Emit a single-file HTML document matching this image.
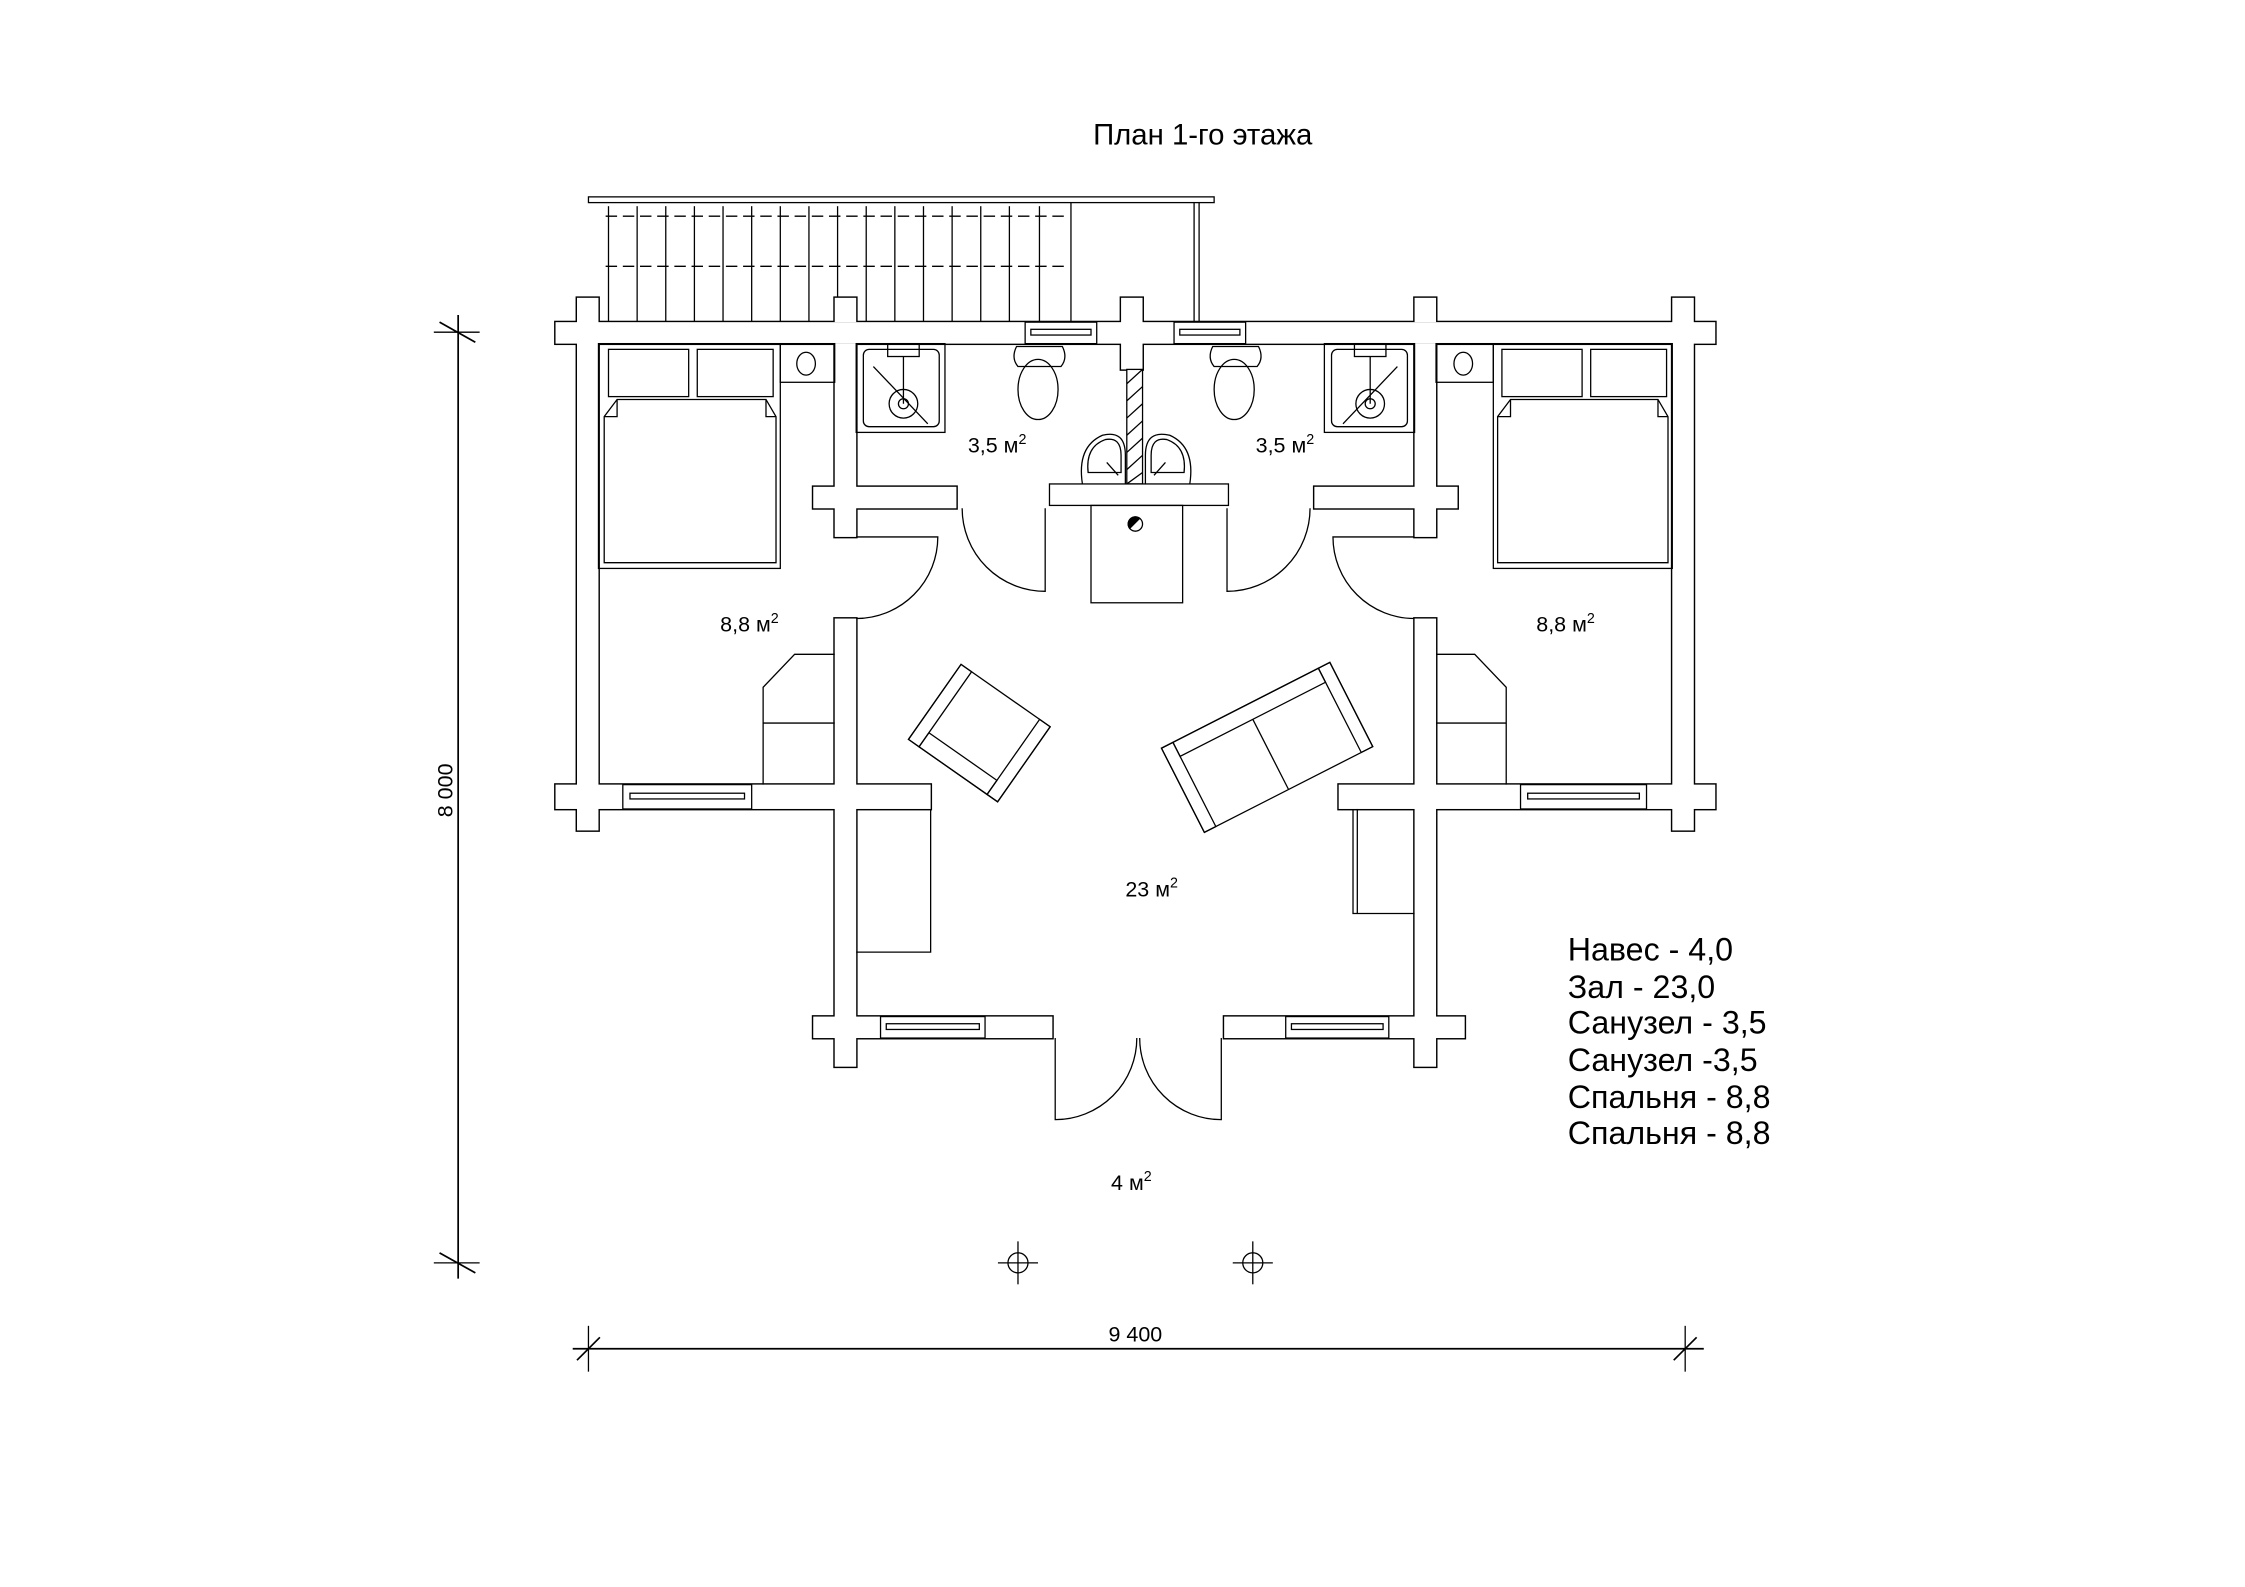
<!DOCTYPE html>
<html><head><meta charset="utf-8"><style>
html,body{margin:0;padding:0;background:#fff;}
svg{display:block;}
text{font-family:"Liberation Sans",sans-serif;fill:#000;}
</style></head><body>
<svg width="2245" height="1587" viewBox="0 0 1568 1108.4" preserveAspectRatio="none" xmlns="http://www.w3.org/2000/svg">
<rect width="1568" height="1109" fill="#fff"/>
<text x="840" y="101" font-size="20.5" text-anchor="middle">План 1-го этажа</text>

<g stroke="#000" fill="none" stroke-width="0.9">
<rect x="411" y="137.5" width="437" height="4"/>
<line x1="834" y1="141.5" x2="834" y2="225"/>
<line x1="837.5" y1="141.5" x2="837.5" y2="225"/>
<line x1="423" y1="151" x2="745" y2="151" stroke-dasharray="8,4"/>
<line x1="423" y1="186" x2="745" y2="186" stroke-dasharray="8,4"/>
<line x1="748" y1="141.5" x2="748" y2="225"/>
<line x1="425" y1="144" x2="425" y2="225"/>
<line x1="445" y1="144" x2="445" y2="225"/><line x1="465" y1="144" x2="465" y2="225"/>
<line x1="485" y1="144" x2="485" y2="225"/><line x1="505" y1="144" x2="505" y2="225"/>
<line x1="525" y1="144" x2="525" y2="225"/><line x1="545" y1="144" x2="545" y2="225"/>
<line x1="565" y1="144" x2="565" y2="225"/><line x1="585" y1="144" x2="585" y2="208"/>
<line x1="605" y1="144" x2="605" y2="225"/><line x1="625" y1="144" x2="625" y2="225"/>
<line x1="645" y1="144" x2="645" y2="225"/><line x1="665" y1="144" x2="665" y2="225"/>
<line x1="685" y1="144" x2="685" y2="225"/><line x1="705" y1="144" x2="705" y2="225"/>
<line x1="726" y1="144" x2="726" y2="225"/>
</g>

<g stroke="#000" stroke-width="2" fill="#fff">
<rect x="388" y="225" width="810" height="15"/>
<rect x="403" y="208" width="15" height="372"/>
<rect x="583" y="208" width="15" height="17"/>
<rect x="783" y="208" width="15" height="50"/>
<rect x="988" y="208" width="15" height="17"/>
<rect x="1168" y="208" width="15" height="372"/>
<rect x="583" y="240" width="15" height="135"/>
<rect x="568" y="340" width="100" height="15"/>
<rect x="988" y="240" width="15" height="135"/>
<rect x="918" y="340" width="100" height="15"/>
<rect x="583" y="432" width="15" height="313"/>
<rect x="988" y="432" width="15" height="313"/>
<rect x="388" y="548" width="262" height="17"/>
<rect x="935" y="548" width="263" height="17"/>
<rect x="568" y="710" width="167" height="15"/>
<rect x="855" y="710" width="168" height="15"/>
</g>
<g fill="#fff" stroke="none">
<rect x="388" y="225" width="810" height="15"/>
<rect x="403" y="208" width="15" height="372"/>
<rect x="583" y="208" width="15" height="17"/>
<rect x="783" y="208" width="15" height="50"/>
<rect x="988" y="208" width="15" height="17"/>
<rect x="1168" y="208" width="15" height="372"/>
<rect x="583" y="240" width="15" height="135"/>
<rect x="568" y="340" width="100" height="15"/>
<rect x="988" y="240" width="15" height="135"/>
<rect x="918" y="340" width="100" height="15"/>
<rect x="583" y="432" width="15" height="313"/>
<rect x="988" y="432" width="15" height="313"/>
<rect x="388" y="548" width="262" height="17"/>
<rect x="935" y="548" width="263" height="17"/>
<rect x="568" y="710" width="167" height="15"/>
<rect x="855" y="710" width="168" height="15"/>
</g>

<g stroke="#000" stroke-width="0.9" fill="#fff">
<rect x="716" y="225" width="50" height="15"/><rect x="720" y="230" width="42" height="4"/>
<rect x="820" y="225" width="50" height="15"/><rect x="824" y="230" width="42" height="4"/>
<rect x="435" y="548" width="90" height="17"/><rect x="440" y="554" width="80" height="4"/>
<rect x="1062" y="548" width="88" height="17"/><rect x="1067" y="554" width="78" height="4"/>
<rect x="615" y="710" width="73" height="15"/><rect x="619" y="715" width="65" height="4"/>
<rect x="898" y="710" width="72" height="15"/><rect x="902" y="715" width="64" height="4"/>
</g>

<g stroke="#000" stroke-width="0.9" fill="none">
<rect x="418" y="240" width="127" height="157"/>
<rect x="425" y="244" width="56" height="33"/>
<rect x="487" y="244" width="53" height="33"/>
<path d="M422,393 V291 L431,279 H535 L542,291 V393 Z" fill="#fff"/>
<path d="M422,291 H431 V279 M542,291 H535 V279"/>
<rect x="545" y="240" width="38" height="27"/>
<ellipse cx="563" cy="254" rx="6.5" ry="8"/>
<rect x="1043" y="240" width="125" height="157"/>
<rect x="1049" y="244" width="56" height="33"/>
<rect x="1111" y="244" width="53" height="33"/>
<path d="M1046,393 V291 L1055,279 H1158 L1165,291 V393 Z" fill="#fff"/>
<path d="M1046,291 H1055 V279 M1165,291 H1158 V279"/>
<rect x="1003" y="240" width="40" height="27"/>
<ellipse cx="1022" cy="254" rx="6.5" ry="8"/>

<path d="M583,457 H555 L533,480 V548"/><line x1="533" y1="505" x2="583" y2="505"/>
<path d="M1003,457 H1030 L1052,480 V548"/><line x1="1003" y1="505" x2="1052" y2="505"/>

<rect x="598" y="240" width="62" height="62"/>
<rect x="603" y="244" width="53" height="54" rx="4"/>
<rect x="620" y="240" width="22" height="9"/>
<line x1="631" y1="249" x2="631" y2="282"/>
<circle cx="631" cy="282" r="10"/><circle cx="631" cy="282" r="3.5"/>
<line x1="610" y1="256" x2="648" y2="296"/>
<rect x="925" y="240" width="63" height="62"/>
<rect x="930" y="244" width="53" height="54" rx="4"/>
<rect x="946" y="240" width="22" height="9"/>
<line x1="957" y1="249" x2="957" y2="282"/>
<circle cx="957" cy="282" r="10"/><circle cx="957" cy="282" r="3.5"/>
<line x1="976" y1="256" x2="938" y2="296"/>

<path d="M710,242 H742 Q746,250 741,256 H711 Q706,250 710,242 Z"/>
<ellipse cx="725" cy="272" rx="14" ry="21"/>
<path d="M847,242 H879 Q883,250 878,256 H848 Q843,250 847,242 Z"/>
<ellipse cx="862" cy="272" rx="14" ry="21"/>

<rect x="787" y="258" width="11" height="80" fill="#fff"/>
<path d="M787,268 L798,258 M787,280 L798,270 M787,292 L798,282 M787,304 L798,294 M787,316 L798,306 M787,328 L798,318 M787,338 L798,330"/>
<path d="M756,338 Q752,312 770,304 Q786,300 786,318 L786,338"/>
<path d="M760,330 Q758,312 772,307 Q783,305 783,318 L783,330 Z"/>
<path d="M831,338 Q835,312 817,304 Q800,300 800,318 L800,338"/>
<path d="M827,330 Q829,312 815,307 Q804,305 804,318 L804,330 Z"/>
<line x1="773" y1="323" x2="781" y2="332"/><line x1="814" y1="323" x2="806" y2="332"/>
<rect x="733" y="338" width="125" height="15" fill="#fff"/>
<rect x="762" y="353" width="64" height="68"/>
<circle cx="793" cy="366" r="5"/>
<path d="M789,369 A5,5 0 0 1 796,362 Z" fill="#000"/>

<path d="M730,355 V413 A58,58 0 0 1 672,355"/>
<path d="M857,355 V413 A58,58 0 0 0 915,355"/>
<path d="M598,375 H655 A57,57 0 0 1 598,432"/>
<path d="M988,375 H931 A57,57 0 0 0 988,432"/>
<path d="M737,725 V782 A57,57 0 0 0 794,725"/>
<path d="M853,725 V782 A57,57 0 0 1 796,725"/>

<path d="M598,665 H650 V565"/>
<path d="M988,638 H945 V565"/><line x1="948" y1="565" x2="948" y2="638"/>

<g transform="translate(684,512) rotate(35)">
<rect x="-38" y="-32" width="76" height="64" fill="#fff"/>
<rect x="-38" y="-32" width="9" height="64"/><rect x="29" y="-32" width="9" height="64"/>
<rect x="-29" y="20" width="58" height="12"/>
</g>
<g transform="translate(885,522) rotate(-27)">
<rect x="-66" y="-33" width="132" height="66" fill="#fff"/>
<rect x="-66" y="-33" width="9" height="66"/><rect x="57" y="-33" width="9" height="66"/>
<rect x="-57" y="-33" width="114" height="11"/>
<line x1="0" y1="-22" x2="0" y2="33"/>
</g>

<circle cx="711" cy="882" r="7"/><line x1="697" y1="882" x2="725" y2="882"/><line x1="711" y1="867" x2="711" y2="897"/>
<circle cx="875" cy="882" r="7"/><line x1="861" y1="882" x2="889" y2="882"/><line x1="875" y1="867" x2="875" y2="897"/>

<line x1="320" y1="220" x2="320" y2="893" stroke-width="1.2"/>
<line x1="303" y1="232" x2="335" y2="232"/><line x1="307" y1="225" x2="332" y2="239" stroke-width="1.2"/>
<line x1="303" y1="882" x2="335" y2="882"/><line x1="307" y1="875" x2="332" y2="889" stroke-width="1.2"/>
<line x1="400" y1="942" x2="1190" y2="942" stroke-width="1.2"/>
<line x1="411" y1="926" x2="411" y2="958"/><line x1="403" y1="950" x2="419" y2="934" stroke-width="1.2"/>
<line x1="1177" y1="926" x2="1177" y2="958"/><line x1="1169" y1="950" x2="1185" y2="934" stroke-width="1.2"/>
</g>

<text x="320" y="556" font-size="15" text-anchor="middle" transform="rotate(-90 316 556)">8 000</text>
<text x="793" y="937" font-size="15" text-anchor="middle">9 400</text>

<g font-size="15">
<text x="676" y="316">3,5 м<tspan font-size="10" dy="-6">2</tspan></text>
<text x="877" y="316">3,5 м<tspan font-size="10" dy="-6">2</tspan></text>
<text x="503" y="441">8,8 м<tspan font-size="10" dy="-6">2</tspan></text>
<text x="1073" y="441">8,8 м<tspan font-size="10" dy="-6">2</tspan></text>
<text x="786" y="626">23 м<tspan font-size="10" dy="-6">2</tspan></text>
<text x="776" y="831">4 м<tspan font-size="10" dy="-6">2</tspan></text>
</g>

<g font-size="22.5">
<text x="1095" y="671">Навес - 4,0</text>
<text x="1095" y="697">Зал - 23,0</text>
<text x="1095" y="722">Санузел - 3,5</text>
<text x="1095" y="748">Санузел  -3,5</text>
<text x="1095" y="774">Спальня - 8,8</text>
<text x="1095" y="799">Спальня - 8,8</text>
</g>
</svg>
</body></html>
